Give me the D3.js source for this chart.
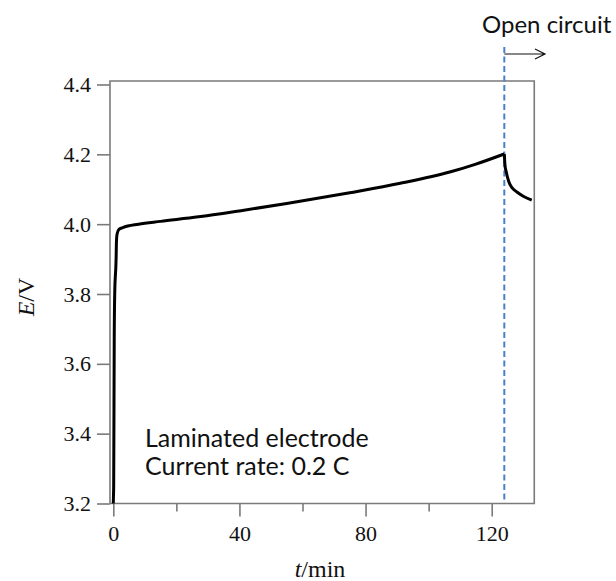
<!DOCTYPE html>
<html><head><meta charset="utf-8">
<script src="https://cdn.jsdelivr.net/npm/d3@7"></script>
<style>body{margin:0;background:#fff;} svg{display:block;}</style>
</head><body>
<script>
// Data
const chargeT = [0, 0.05, 0.12, 0.3, 0.45, 0.9, 1.0, 1.2, 1.8, 3, 8, 15, 27, 40, 55, 75, 91, 107, 115, 124];
const chargeE = [3.20, 3.22, 3.25, 3.68, 3.80, 3.905, 3.95, 3.972, 3.985, 3.99, 4.0, 4.008, 4.021, 4.038, 4.059, 4.09, 4.117, 4.15, 4.172, 4.201];
const openT = [124, 124.2, 124.6, 125.4, 126.5, 128, 130, 132.7];
const openE = [4.201, 4.17, 4.150, 4.122, 4.104, 4.092, 4.080, 4.069];
const xTicks = [0, 40, 80, 120];
const xMinorTicks = [20, 60, 100];
const yTicks = [3.2, 3.4, 3.6, 3.8, 4.0, 4.2, 4.4];
const switchT = 124;

const W = 616, H = 581;
const svg = d3.select("body").append("svg").attr("width", W).attr("height", H);

const x = d3.scaleLinear().domain([0, 120]).range([113.3, 491.7]);
const y = d3.scaleLinear().domain([3.2, 4.4]).range([503.5, 84.5]);
const xL = x(-1.05), xR = x(133.5), yT = y(4.41), yB = y(3.2);

const gray = "#7a7a7a";
// frame
svg.append("path").attr("d", `M${xL},${yB}V${yT}H${xR}V${yB}H${xL}`)
  .attr("fill", "none").attr("stroke", gray).attr("stroke-width", 1.6);

// y axis
const yAxis = d3.axisLeft(y).tickValues(yTicks).tickFormat(d3.format(".1f")).tickSize(13).tickPadding(6);
const gy = svg.append("g").attr("transform", `translate(${xL},0)`).call(yAxis);
gy.select(".domain").remove();
gy.selectAll(".tick line").attr("stroke", gray).attr("stroke-width", 1.6);
gy.selectAll(".tick text").attr("font-family", "'Liberation Serif', serif").attr("font-size", 22).attr("fill", "#111");

// x axis
const xAxis = d3.axisBottom(x).tickValues(xTicks).tickSize(13).tickPadding(9);
const gx = svg.append("g").attr("transform", `translate(0,${yB})`).call(xAxis);
gx.select(".domain").remove();
gx.selectAll(".tick line").attr("stroke", gray).attr("stroke-width", 1.6);
gx.selectAll(".tick text").attr("font-family", "'Liberation Serif', serif").attr("font-size", 22).attr("fill", "#111");
const gxm = svg.append("g").attr("transform", `translate(0,${yB})`)
  .call(d3.axisBottom(x).tickValues(xMinorTicks).tickSize(8).tickFormat(""));
gxm.select(".domain").remove();
gxm.selectAll(".tick line").attr("stroke", gray).attr("stroke-width", 1.6);

// axis titles
const yt = svg.append("text").attr("transform", `translate(34,297) rotate(-90)`)
  .attr("text-anchor", "middle").attr("font-family", "'Liberation Serif', serif").attr("font-size", 24).attr("fill", "#111");
yt.append("tspan").attr("font-style", "italic").text("E");
yt.append("tspan").text("/V");
const xt = svg.append("text").attr("x", 320).attr("y", 577)
  .attr("text-anchor", "middle").attr("font-family", "'Liberation Serif', serif").attr("font-size", 24).attr("fill", "#111");
xt.append("tspan").attr("font-style", "italic").text("t");
xt.append("tspan").text("/min");

// dashed line
svg.append("line").attr("x1", x(switchT)).attr("x2", x(switchT)).attr("y1", 47).attr("y2", 500)
  .attr("stroke", "#4a7fc9").attr("stroke-width", 2).attr("stroke-dasharray", "6,3.5");

// curves
const line = d3.line().x(d => x(d[0])).y(d => y(d[1])).curve(d3.curveMonotoneX);
const chargeData = chargeT.map((t, i) => [t, chargeE[i]]);
const openData = openT.map((t, i) => [t, openE[i]]);
svg.append("path").attr("d", line(chargeData))
  .attr("fill", "none").attr("stroke", "#000").attr("stroke-width", 3).attr("stroke-linejoin", "round");
svg.append("path").attr("d", line(openData))
  .attr("fill", "none").attr("stroke", "#000").attr("stroke-width", 3).attr("stroke-linejoin", "round");

// arrow
const ay = 54, ax1 = x(switchT), ax2 = 545;
svg.append("path").attr("d", `M${ax1},${ay}H${ax2}M${ax2-10},${ay-5}L${ax2},${ay}L${ax2-10},${ay+5}`)
  .attr("fill", "none").attr("stroke", "#111").attr("stroke-width", 1.2);

// texts
const sans = "Lato, 'Open Sans', sans-serif";
svg.append("text").attr("x", 482).attr("y", 33).attr("font-family", sans).attr("font-size", 24).attr("fill", "#111").text("Open circuit");
svg.append("text").attr("x", 145).attr("y", 447).attr("font-family", sans).attr("font-size", 25).attr("fill", "#111").text("Laminated electrode");
svg.append("text").attr("x", 145).attr("y", 475).attr("font-family", sans).attr("font-size", 25).attr("fill", "#111").text("Current rate: 0.2 C");
</script>
</body></html>
